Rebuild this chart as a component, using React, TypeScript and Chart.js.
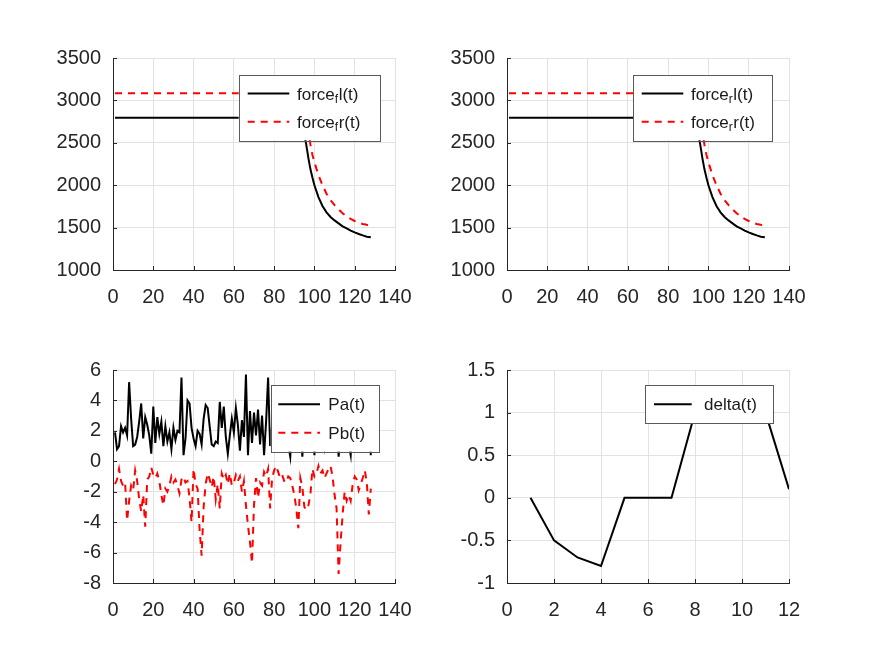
import React, { useEffect, useRef } from 'react';
import Chart from 'chart.js/auto';

// ---- data ----
const forceT = [1, 92, 93, 94, 95, 96, 97, 98, 99, 100, 102, 104, 106, 108, 110, 112, 114, 116, 118, 120, 122, 124, 126, 128];
const forceL = [2796, 2796, 2770, 2700, 2600, 2470, 2320, 2190, 2090, 2000, 1860, 1755, 1680, 1625, 1585, 1550, 1515, 1490, 1465, 1443, 1425, 1408, 1393, 1386];
const forceR = [3084, 3084, 3084, 3084, 3000, 2850, 2650, 2480, 2360, 2270, 2120, 2000, 1900, 1825, 1765, 1715, 1670, 1632, 1602, 1578, 1558, 1543, 1533, 1530];

const pa = [
  1.9, 0.8, 1.0, 2.3, 1.9, 2.2, 1.7, 5.2, 2.8, 1.0,
  1.1, 1.6, 2.6, 3.8, 1.5, 2.9, 2.4, 1.7, 0.5, 3.6,
  1.2, 2.9, 1.8, 2.6, 1.0, 2.3, 1.3, 1.9, 0.8, 2.2,
  1.4, 2.0, 1.9, 5.5, 0.4, 1.5, 4.0, 3.8, 2.2, 1.5,
  1.0, 2.0, 1.8, 1.1, 2.8, 3.7, 3.5, 2.3, 1.1, 1.0,
  1.3, 1.2, 3.9, 2.2, 3.6, 1.6, 0.5, 1.7, 2.8, 1.9,
  3.5, 2.4, 0.7, 2.7, 1.6, 5.7, 0.4, 3.3, 1.2, 3.2,
  1.7, 3.4, 1.1, 3.0, 0.4, 2.6, 5.5, 1.0, 2.4, 1.3,
  3.1, 1.8, 2.9, 1.2, 3.4, 2.0, 1.1, 0.3, 2.6, 1.4,
  3.0, 1.7, 2.5, 0.3, 2.8, 1.2, 3.3, 1.6, 2.2, 0.4,
  2.9, 1.5, 3.6, 1.9, 1.0, 2.7, 1.4, 3.1, 2.0, 1.2,
  2.6, 0.3, 1.8, 3.2, 1.5, 2.4, 1.1, 0.4, 2.9, 1.7,
  3.4, 1.3, 2.2, 1.0, 2.8, 1.6, 2.5, 0.4,
];
const pb = [
  -1.5, -1.2, -0.5, -1.3, -1.6, -1.4, -3.9, -2.6, -1.6, -1.9,
  -0.6, -1.3, -2.5, -3.3, -2.2, -4.3, -1.2, -1.0, -0.4, -0.9,
  -1.1, -0.8, -1.3, -2.2, -2.9, -1.8, -2.0, -1.6, -1.0, -1.4,
  -1.2, -1.6, -2.1, -1.2, -1.0, -1.4, -1.3, -2.4, -4.0, -0.5,
  -1.5, -1.8, -4.5, -6.2, -3.0, -1.5, -0.8, -1.2, -1.7, -1.0,
  -2.5, -1.5, -3.1, -0.8, -1.2, -0.9, -1.5, -0.8, -1.6, -1.4,
  -0.9, -1.3, -1.0, -2.0, -1.3, -2.9, -4.2, -5.3, -6.7, -2.9,
  -1.1, -2.4, -1.4, -1.6, -0.7, -1.0, -0.5, -3.1, -1.1, -0.6,
  -0.3, -0.7, -1.1, -0.9, -1.3, -1.4, -1.0, -1.1, -1.6, -2.2,
  -3.1, -4.4, -1.1, -1.7, -3.0, -3.2, -2.9, -2.2, -0.5, -1.0,
  -0.8, -0.3, -0.8, -0.6, -1.1, -0.8, -0.5, -0.3, -1.0, -2.2,
  -3.1, -7.4, -5.3, -3.5, -2.0, -2.6, -2.2, -2.6, -1.5, -1.0,
  -1.2, -1.9, -1.5, -1.1, -0.6, -1.4, -3.5, -1.8,
];
const pT = pa.map((_, i) => i + 1);

const deltaT = [1, 2, 3, 4, 5, 6, 7, 8, 9, 10, 11, 12];
const deltaV = [0, -0.5, -0.7, -0.8, 0, 0, 0, 1, 1, 1, 1, 0.1];

const AXIS = '#262626';
const FONT = '"Liberation Sans", Arial, Helvetica, sans-serif';
const DASH = [7, 6];

type Part = { text: string; sub?: boolean };
type Row = { y: number; color: string; dash?: number[]; parts: Part[] };
type LegendSpec = { x: number; y: number; w: number; h: number; lineX: number; lineW: number; textX: number; rows: Row[] };

// inward tick marks + Octave-like legend drawn inside the axes
const octavePlugin = {
  id: 'octave',
  afterDatasetsDraw(chart: any, _args: any, opts: any) {
    const { ctx, chartArea: a, scales } = chart;
    ctx.save();
    ctx.strokeStyle = AXIS;
    ctx.lineWidth = 1;
    ctx.beginPath();
    scales.x.ticks.forEach((_t: any, i: number) => {
      const px = Math.round(scales.x.getPixelForTick(i)) + 0.5;
      ctx.moveTo(px, a.bottom);
      ctx.lineTo(px, a.bottom - 4);
    });
    scales.y.ticks.forEach((_t: any, i: number) => {
      const py = Math.round(scales.y.getPixelForTick(i)) + 0.5;
      ctx.moveTo(a.left, py);
      ctx.lineTo(a.left + 4, py);
    });
    ctx.stroke();

    const lg: LegendSpec | undefined = opts && opts.legend;
    if (lg) {
      const bx = a.left + lg.x;
      const by = a.top + lg.y;
      ctx.fillStyle = '#ffffff';
      ctx.fillRect(bx, by, lg.w, lg.h);
      ctx.strokeStyle = '#5a5a5a';
      ctx.lineWidth = 1;
      ctx.strokeRect(Math.round(bx) + 0.5, Math.round(by) + 0.5, Math.round(lg.w), Math.round(lg.h));
      lg.rows.forEach((r) => {
        const ry = a.top + r.y;
        ctx.save();
        ctx.strokeStyle = r.color;
        ctx.lineWidth = 2;
        ctx.setLineDash(r.dash || []);
        ctx.beginPath();
        ctx.moveTo(a.left + lg.lineX, ry);
        ctx.lineTo(a.left + lg.lineX + lg.lineW, ry);
        ctx.stroke();
        ctx.restore();
        let tx = a.left + lg.textX;
        ctx.fillStyle = '#1a1a1a';
        ctx.textBaseline = 'alphabetic';
        ctx.textAlign = 'left';
        r.parts.forEach((p) => {
          ctx.font = p.sub ? `12px ${FONT}` : `17px ${FONT}`;
          ctx.fillText(p.text, tx, ry + (p.sub ? 9 : 6));
          tx += ctx.measureText(p.text).width + (p.sub ? 0.5 : 0);
        });
      });
    }
    ctx.restore();
  },
};

type Panel = {
  left: number; top: number; w: number; h: number;
  xMax: number; xStep: number; yMin: number; yMax: number; yStep: number;
  datasets: any[]; legend: LegendSpec;
};

const PAD_L = 80, PAD_T = 34, PAD_R = 32, PAD_B = 50;

const toXY = (xs: number[], ys: number[]) => xs.map((x, i) => ({ x, y: ys[i] }));

const line = (data: any[], color: string, dash?: number[]) => ({
  data,
  borderColor: color,
  borderWidth: 2,
  borderDash: dash || [],
  pointRadius: 0,
  tension: 0,
  fill: false,
});

const forceLegend = (sub: string, x: number, w: number): LegendSpec => ({
  x, y: 16.5, w, h: 65.7, lineX: 134.7, lineW: 41.6, textX: 184,
  rows: [
    { y: 35.5, color: '#000000', parts: [{ text: 'force' }, { text: sub, sub: true }, { text: 'l(t)' }] },
    { y: 63.8, color: '#ff0000', dash: DASH, parts: [{ text: 'force' }, { text: sub, sub: true }, { text: 'r(t)' }] },
  ],
});

const panels: Panel[] = [
  {
    left: 113, top: 58, w: 282, h: 212, xMax: 140, xStep: 20, yMin: 1000, yMax: 3500, yStep: 500,
    datasets: [line(toXY(forceT, forceL), '#000000'), line(toXY(forceT, forceR), '#ff0000', DASH)],
    legend: forceLegend('f', 125.7, 141.3),
  },
  {
    left: 507, top: 58, w: 282, h: 212, xMax: 140, xStep: 20, yMin: 1000, yMax: 3500, yStep: 500,
    datasets: [line(toXY(forceT, forceL), '#000000'), line(toXY(forceT, forceR), '#ff0000', DASH)],
    legend: forceLegend('r', 126.3, 139.4),
  },
  {
    left: 113, top: 370, w: 282, h: 213, xMax: 140, xStep: 20, yMin: -8, yMax: 6, yStep: 2,
    datasets: [line(toXY(pT, pa), '#000000'), line(toXY(pT, pb), '#ff0000', DASH)],
    legend: {
      x: 157.7, y: 15, w: 107.6, h: 66.7, lineX: 165.3, lineW: 41.7, textX: 215.3,
      rows: [
        { y: 34.3, color: '#000000', parts: [{ text: 'Pa(t)' }] },
        { y: 62.7, color: '#ff0000', dash: DASH, parts: [{ text: 'Pb(t)' }] },
      ],
    },
  },
  {
    left: 507, top: 370, w: 282, h: 213, xMax: 12, xStep: 2, yMin: -1, yMax: 1.5, yStep: 0.5,
    datasets: [line(toXY(deltaT, deltaV), '#000000')],
    legend: {
      x: 138, y: 15, w: 127.7, h: 38.3, lineX: 147, lineW: 37.7, textX: 197,
      rows: [{ y: 34.3, color: '#000000', parts: [{ text: 'delta(t)' }] }],
    },
  },
];

const SubPlot: React.FC<{ p: Panel }> = ({ p }) => {
  const ref = useRef<HTMLCanvasElement>(null);
  const chartInstance = useRef<Chart | null>(null);

  useEffect(() => {
    if (!ref.current) return;
    if (chartInstance.current) chartInstance.current.destroy();

    const tickFont = { family: FONT, size: 20 };
    chartInstance.current = new Chart(ref.current, {
      type: 'line',
      data: { datasets: p.datasets },
      plugins: [octavePlugin],
      options: {
        animation: false,
        responsive: false,
        maintainAspectRatio: false,
        devicePixelRatio: 1,
        layout: { padding: { left: 0, top: PAD_T, right: PAD_R, bottom: 0 } },
        plugins: {
          legend: { display: false },
          tooltip: { enabled: false },
          octave: { legend: p.legend },
        } as any,
        scales: {
          x: {
            type: 'linear',
            min: 0,
            max: p.xMax,
            afterFit: (s: any) => { s.height = PAD_B; },
            ticks: {
              stepSize: p.xStep,
              autoSkip: false,
              maxRotation: 0,
              padding: 15,
              color: AXIS,
              font: tickFont,
              callback: (v: any) => String(v),
            },
            grid: { color: '#e2e2e2', lineWidth: 1, drawTicks: false },
            border: { display: true, color: AXIS, width: 1 },
          },
          y: {
            type: 'linear',
            min: p.yMin,
            max: p.yMax,
            afterFit: (s: any) => { s.width = PAD_L; },
            ticks: {
              stepSize: p.yStep,
              autoSkip: false,
              padding: 12,
              color: AXIS,
              font: tickFont,
              callback: (v: any) => String(v),
            },
            grid: { color: '#e2e2e2', lineWidth: 1, drawTicks: false },
            border: { display: true, color: AXIS, width: 1 },
          },
        },
      },
    } as any);

    return () => {
      if (chartInstance.current) {
        chartInstance.current.destroy();
        chartInstance.current = null;
      }
    };
  }, [p]);

  const cw = PAD_L + p.w + PAD_R;
  const ch = PAD_T + p.h + PAD_B;
  return (
    <canvas
      ref={ref}
      width={cw}
      height={ch}
      style={{ position: 'absolute', left: p.left - PAD_L, top: p.top - PAD_T, width: cw, height: ch }}
    />
  );
};

export default function App() {
  return (
    <div style={{ position: 'absolute', left: 0, top: 0, width: 872, height: 654, background: '#ffffff', overflow: 'hidden' }}>
      {panels.map((p, i) => (
        <SubPlot key={i} p={p} />
      ))}
    </div>
  );
}
